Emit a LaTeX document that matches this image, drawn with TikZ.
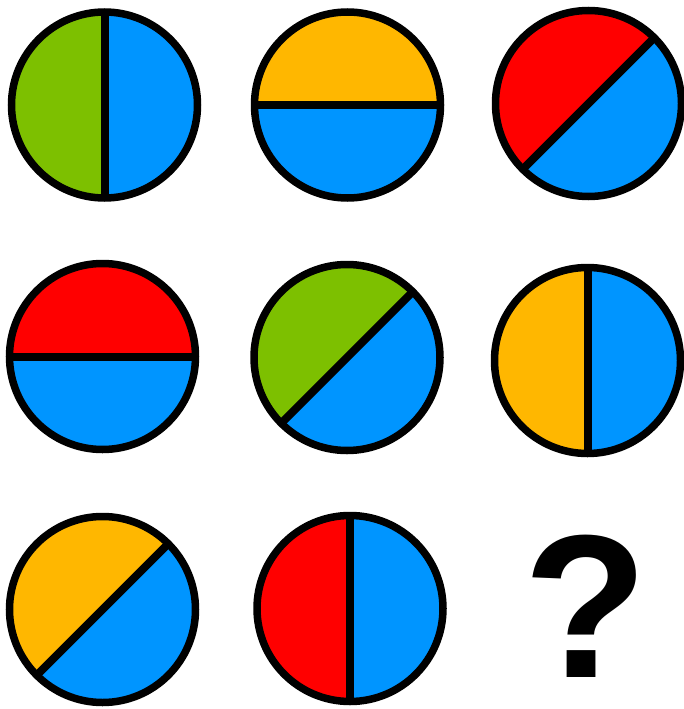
\documentclass[tikz,border=0pt]{standalone}
\usepackage{fontspec}
\setmainfont{Liberation Sans}
\definecolor{cblue}{HTML}{0095FF}
\definecolor{cgreen}{HTML}{7DC000}
\definecolor{corange}{HTML}{FFB700}
\definecolor{cred}{HTML}{FF0000}
\newcommand\splitdisc[5]{%
  \begin{scope}[shift={(#2,#3)}]
    \fill[#5] (0,0) -- (#4:93) arc[start angle=#4, end angle=#4+180, radius=93] -- cycle;
    \fill[cblue] (0,0) -- (#4+180:93) arc[start angle=#4+180, end angle=#4+360, radius=93] -- cycle;
    \draw[divider] (#4:93) -- (#4+180:93);
    \node[disc] (#1) at (0,0) {};
  \end{scope}}
\begin{document}
\begin{tikzpicture}[x=1pt,y=-1pt,
  disc/.style={circle, draw=black, line width=7.5pt, inner sep=0pt, minimum size=186pt},
  divider/.style={draw=black, line width=8pt},
  qmark/.style={font=\bfseries\fontsize{204}{204}\selectfont, inner sep=0pt}]
\useasboundingbox[fill=white] (0,0) rectangle (684,709);
\splitdisc{c1}{104.5}{105}{90}{cgreen}
\splitdisc{c2}{347.5}{105}{180}{corange}
\splitdisc{c3}{588.5}{103.5}{135}{cred}
\splitdisc{c4}{102.5}{356.5}{180}{cred}
\splitdisc{c5}{347}{357.5}{135}{cgreen}
\splitdisc{c6}{587.5}{360.5}{90}{corange}
\splitdisc{c7}{102.5}{609.5}{135}{corange}
\splitdisc{c8}{350}{608.5}{90}{cred}
\node[qmark] (q) at (586,606) {?};
\end{tikzpicture}
\end{document}
